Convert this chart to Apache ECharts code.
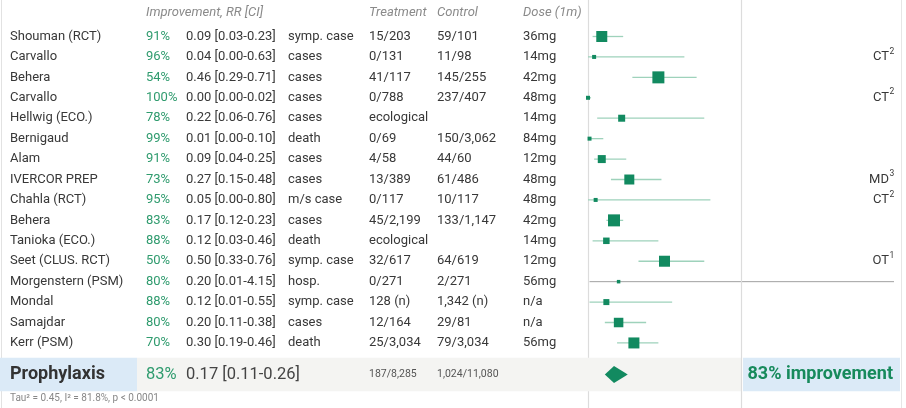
<!DOCTYPE html>
<html><head><meta charset="utf-8">
<script src="https://cdn.jsdelivr.net/npm/echarts@6/dist/echarts.min.js"></script>
<style>html,body{margin:0;padding:0;background:#fff}#c{width:906px;height:408px}</style>
</head><body><div id="c"></div>
<script>
// ---- data ----
const studies = ['Shouman (RCT)','Carvallo','Behera','Carvallo','Hellwig (ECO.)','Bernigaud','Alam','IVERCOR PREP','Chahla (RCT)','Behera','Tanioka (ECO.)','Seet (CLUS. RCT)','Morgenstern (PSM)','Mondal','Samajdar','Kerr (PSM)'];
const improvement = ['91%','96%','54%','100%','78%','99%','91%','73%','95%','83%','88%','50%','80%','88%','80%','70%'];
const rr     = [0.09,0.04,0.46,0.00,0.22,0.01,0.09,0.27,0.05,0.17,0.12,0.50,0.20,0.12,0.20,0.30];
const ciLow  = [0.03,0.00,0.29,0.00,0.06,0.00,0.04,0.15,0.00,0.12,0.03,0.33,0.01,0.01,0.11,0.19];
const ciHigh = [0.23,0.63,0.71,0.02,0.76,0.10,0.25,0.48,0.80,0.23,0.46,0.76,4.15,0.55,0.38,0.46];
const outcomes  = ['symp. case','cases','cases','cases','cases','death','cases','cases','m/s case','cases','death','symp. case','hosp.','symp. case','cases','death'];
const treatment = ['15/203','0/131','41/117','0/788','ecological','0/69','4/58','13/389','0/117','45/2,199','ecological','32/617','0/271','128 (n)','12/164','25/3,034'];
const control   = ['59/101','11/98','145/255','237/407','','150/3,062','44/60','61/486','10/117','133/1,147','','64/619','2/271','1,342 (n)','29/81','79/3,034'];
const dose      = ['36mg','14mg','42mg','48mg','14mg','84mg','12mg','48mg','48mg','42mg','14mg','12mg','56mg','n/a','n/a','56mg'];
const noteText  = ['','CT','','CT','','','','MD','CT','','','OT','','','',''];
const noteSup   = ['','2','','2','','','','3','2','','','1','','','',''];
const weights   = [11,4,12,4,7,4,8,10,4,12,6.5,11,3.5,6,9.5,11];
const headers   = ['Improvement, RR [CI]','Treatment','Control','Dose (1m)'];
const summaryLabel = 'Prophylaxis';
const summaryImprovement = '83%';
const summaryRR = [0.17, 0.11, 0.26];
const summaryTreatment = '187/8,285';
const summaryControl = '1,024/11,080';
const summaryNote = '83% improvement';
const footerText = 'Tau\u00B2 = 0.45, I\u00B2 = 81.8%, p < 0.0001';

// ---- layout ----
const ROW_H = 20.43, FIRST_Y = 36.5, H = 408;
const Y_MIN = -FIRST_Y / ROW_H, Y_MAX = (H - FIRST_Y) / ROW_H;
const HEADER_POS = -1.15, SUMMARY_POS = 16.55, FOOTER_POS = 17.7;
const X_MAX = 2;
const FONT = 'Roboto, "Noto Sans", sans-serif';
const C_TEXT = '#383838', C_GREEN = '#2f9b6e', C_SQ = '#128a60', C_CI = '#9ed2bb', C_GRID = '#dcdcdc';
const COL = {name:10, pct:146, rr:186, out:288, tr:369, ctl:437, dose:523, note:889};

const chart = echarts.init(document.getElementById('c'), null, {renderer:'canvas'});

function txt(t, x, y, o) {
  o = o || {};
  return {type:'text', silent:true, style:{text:t, x:x, y:y, fill:o.fill||C_TEXT,
    fontSize:o.size||13, fontFamily:FONT, fontStyle:o.italic?'italic':'normal',
    fontWeight:o.weight||'normal', align:o.align||'left', verticalAlign:'middle'}};
}

const tableSeries = {
  type:'custom', clip:false, silent:true, z:5,
  data: studies.map((s,i)=>[0,i]),
  renderItem:(params, api)=>{
    const i = params.dataIndex;
    const y = api.coord([0, i])[1];
    const ch = [
      txt(studies[i], COL.name, y),
      txt(improvement[i], COL.pct, y, {fill:C_GREEN}),
      txt(rr[i].toFixed(2)+' ['+ciLow[i].toFixed(2)+'-'+ciHigh[i].toFixed(2)+']', COL.rr, y),
      txt(outcomes[i], COL.out, y),
      txt(treatment[i], COL.tr, y),
      txt(control[i], COL.ctl, y),
      txt(dose[i], COL.dose, y)
    ];
    if (noteText[i]) {
      ch.push(txt(noteText[i], COL.note, y, {align:'right'}));
      ch.push(txt(noteSup[i], COL.note+0.5, y-5.5, {size:8.5}));
    }
    return {type:'group', children:ch};
  }
};

const headerSeries = {
  type:'custom', clip:false, silent:true, z:5,
  data:[[0, HEADER_POS]],
  renderItem:(params, api)=>{
    const y = api.coord([0, HEADER_POS])[1];
    const xs = [COL.pct, COL.tr, COL.ctl, COL.dose];
    return {type:'group', children: headers.map((h,k)=>txt(h, xs[k], y, {fill:'#8a8a8a', italic:true}))};
  }
};

const bgSeries = {
  type:'custom', clip:false, silent:true, z:1,
  data:[[0, SUMMARY_POS]],
  renderItem:(params, api)=>{
    const yT = api.coord([0, SUMMARY_POS-0.82])[1];
    const yB = api.coord([0, SUMMARY_POS+0.82])[1];
    const x1 = api.coord([1, 0])[0];
    return {type:'group', children:[
      {type:'rect', shape:{x:0, y:yT, width:137, height:yB-yT}, style:{fill:'#dbeaf7'}},
      {type:'rect', shape:{x:137, y:yT, width:x1-137, height:yB-yT}, style:{fill:'#f4f4f2'}},
      {type:'rect', shape:{x:x1+2, y:yT, width:900-x1-2, height:yB-yT}, style:{fill:'#dbeaf7'}}
    ]};
  }
};

const summaryTextSeries = {
  type:'custom', clip:false, silent:true, z:5,
  data:[[0, SUMMARY_POS]],
  renderItem:(params, api)=>{
    const y = api.coord([0, SUMMARY_POS])[1];
    const yf = api.coord([0, FOOTER_POS])[1];
    return {type:'group', children:[
      txt(summaryLabel, COL.name, y, {size:18, weight:'bold', fill:'#333'}),
      txt(summaryImprovement, COL.pct, y, {size:16.5, fill:C_GREEN}),
      txt(summaryRR[0].toFixed(2)+' ['+summaryRR[1].toFixed(2)+'-'+summaryRR[2].toFixed(2)+']', COL.rr, y, {size:16.5, fill:'#444'}),
      txt(summaryTreatment, COL.tr, y, {size:10.5, fill:'#555'}),
      txt(summaryControl, COL.ctl, y, {size:10.5, fill:'#555'}),
      txt(summaryNote, 893, y, {size:18, weight:'bold', fill:'#178a5c', align:'right'}),
      txt(footerText, COL.name, yf, {size:10, fill:'#888'})
    ]};
  }
};

const ciSeries = {
  type:'custom', clip:true, silent:true, z:3,
  data: rr.map((v,i)=>[ciLow[i], ciHigh[i], i]),
  encode:{x:[0,1], y:2},
  renderItem:(params, api)=>{
    const i = api.value(2);
    const p1 = api.coord([api.value(0), i]);
    const p2 = api.coord([api.value(1), i]);
    const out = api.value(1) > X_MAX;
    return {type:'line', shape:{x1:p1[0], y1:p1[1], x2:p2[0], y2:p2[1]},
      style:{stroke: out ? '#a0a0a0' : C_CI, lineWidth: out ? 1 : 1.3}};
  }
};

const sqSeries = {
  type:'custom', clip:false, silent:true, z:4,
  data: rr.map((v,i)=>[v, i, weights[i]]),
  encode:{x:0, y:1},
  renderItem:(params, api)=>{
    const p = api.coord([api.value(0), api.value(1)]);
    const s = api.value(2);
    return {type:'rect', shape:{x:p[0]-s/2, y:p[1]-s/2, width:s, height:s}, style:{fill:C_SQ}};
  }
};

const diamondSeries = {
  type:'custom', clip:false, silent:true, z:4,
  data:[summaryRR],
  encode:{x:[0,1,2]},
  renderItem:(params, api)=>{
    const c = api.coord([api.value(0), SUMMARY_POS]);
    const l = api.coord([api.value(1), SUMMARY_POS]);
    const r = api.coord([api.value(2), SUMMARY_POS]);
    const h = 8.5;
    return {type:'polygon', shape:{points:[[l[0],c[1]],[c[0],c[1]-h],[r[0],c[1]],[c[0],c[1]+h]]}, style:{fill:C_SQ}};
  }
};

const refLine = {
  type:'line', data:[], silent:true,
  markLine:{silent:true, symbol:'none', label:{show:false}, animation:false,
    lineStyle:{color:C_GRID, type:'solid', width:1.2},
    data:[{xAxis:1}]}
};

chart.setOption({
  animation:false,
  grid:{left:588, right:12, top:0, bottom:0, containLabel:false},
  xAxis:{type:'value', min:0, max:X_MAX, show:true, axisLine:{show:false}, axisTick:{show:false}, axisLabel:{show:false}, splitLine:{show:false}},
  yAxis:{type:'value', inverse:true, min:Y_MIN, max:Y_MAX, axisLine:{show:true, lineStyle:{color:C_GRID, width:1.2}}, axisTick:{show:false}, axisLabel:{show:false}, splitLine:{show:false}},
  graphic:[
    {type:'line', shape:{x1:1.5, y1:0, x2:1.5, y2:408}, style:{stroke:'#e2e2e2', lineWidth:1}, z:0},
    {type:'line', shape:{x1:901.5, y1:0, x2:901.5, y2:408}, style:{stroke:'#e6e6e6', lineWidth:1}, z:0}
  ],
  series:[bgSeries, refLine, headerSeries, tableSeries, summaryTextSeries, ciSeries, sqSeries, diamondSeries]
});
</script></body></html>
